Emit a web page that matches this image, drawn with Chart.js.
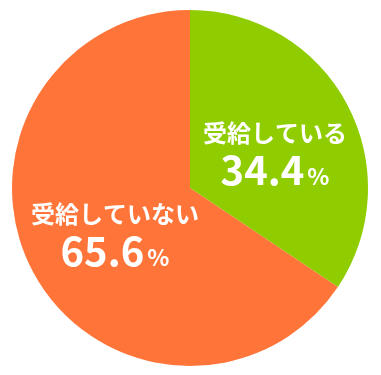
<!DOCTYPE html>
<html>
<head>
<meta charset="utf-8">
<script src="https://cdn.jsdelivr.net/npm/chart.js@4"></script>
<style>
  html, body { margin: 0; padding: 0; background: #fff; }
  #pie { display: block; }
</style>
</head>
<body>
<canvas id="pie" width="381" height="375"></canvas>
<script>
const labels = ["受給している", "受給していない"];
const values = [34.4, 65.6];
const colors = ["#8fcc00", "#ff7539"];

const FONT = "'Noto Sans CJK JP', 'Noto Sans', sans-serif";

// draws the two labels inside the slices
const sliceLabels = {
    id: 'sliceLabels',
    afterDatasetsDraw(chart) {
        const c = chart.ctx;
        const arcs = chart.getDatasetMeta(0).data;
        const shift = [[6.5, 3], [3.5, 0]];
        arcs.forEach((arc, i) => {
            const mid = (arc.startAngle + arc.endAngle) / 2;
            const r = arc.outerRadius * 0.5;
            const x = arc.x + Math.cos(mid) * r + shift[i][0];
            const y = arc.y + Math.sin(mid) * r + shift[i][1];
            c.save();
            c.fillStyle = '#fff';
            c.textBaseline = 'middle';
            c.textAlign = 'center';
            c.font = 'bold 24px ' + FONT;
            c.fillText(labels[i], x, y - 16);

            const num = values[i].toFixed(1);
            c.font = 'bold 40px ' + FONT;
            const w1 = c.measureText(num).width;
            c.font = 'bold 23px ' + FONT;
            const w2 = c.measureText('%').width;
            const left = x - (w1 + w2 + 3) / 2;
            c.textAlign = 'left';
            c.textBaseline = 'alphabetic';
            c.font = 'bold 40px ' + FONT;
            c.fillText(num, left, y + 36);
            c.font = 'bold 23px ' + FONT;
            c.fillText('%', left + w1 + 3, y + 36);
            c.restore();
        });
    }
};

new Chart(document.getElementById('pie'), {
    type: 'pie',
    data: {
        labels: labels,
        datasets: [{
            data: values,
            backgroundColor: colors,
            borderWidth: 0
        }]
    },
    options: {
        responsive: false,
        animation: false,
        layout: { padding: { left: 12, right: 13, top: 10, bottom: 9 } },
        plugins: {
            legend: { display: false },
            tooltip: { enabled: false }
        }
    },
    plugins: [sliceLabels]
});
</script>
</body>
</html>
